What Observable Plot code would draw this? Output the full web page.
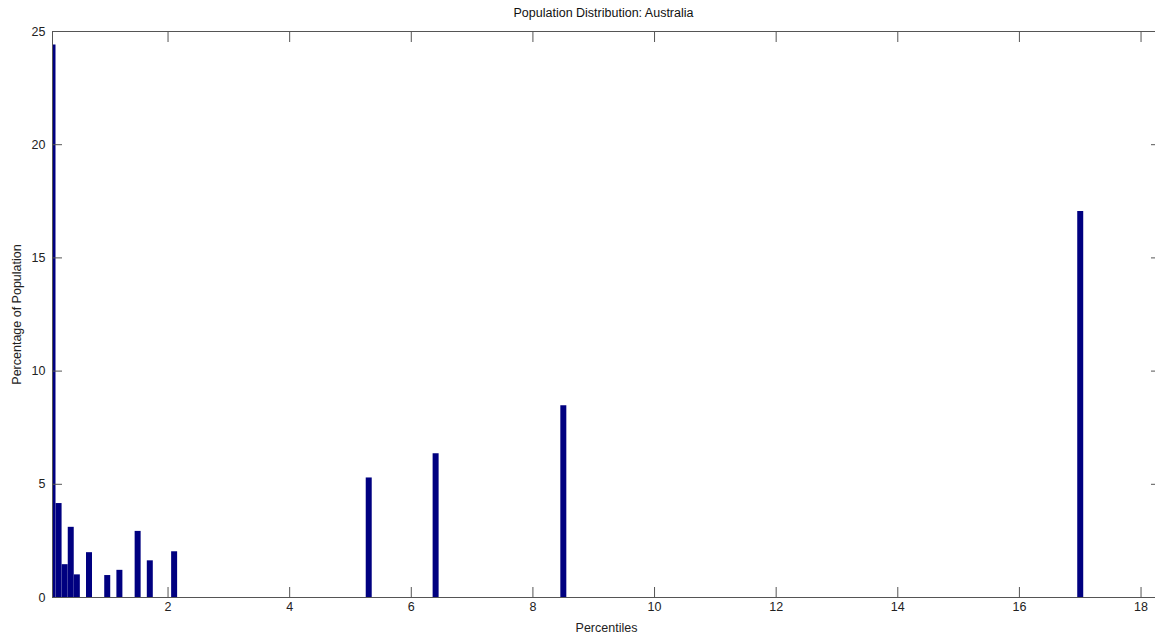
<!DOCTYPE html>
<html>
<head>
<meta charset="utf-8">
<script src="https://cdn.jsdelivr.net/npm/d3@7"></script>
<script src="https://cdn.jsdelivr.net/npm/@observablehq/plot@0.6"></script>
<style>
  html, body { margin: 0; padding: 0; background: #fff; overflow: hidden; }
  #title { width: 1155px; height: 24px; box-sizing: border-box; padding-left: 52px; text-align: center;
           font: 12.5px "Liberation Sans", Arial, sans-serif; color: #111; line-height: 26px; }
  #chart svg { display: block; overflow: hidden; }
</style>
</head>
<body>
<div id="title">Population Distribution: Australia</div>
<div id="chart"></div>
<script>
const percentiles = [0.1, 0.2, 0.3, 0.4, 0.5, 0.7, 1.0, 1.2, 1.5, 1.7, 2.1, 5.3, 6.4, 8.5, 17.0];
const populationPct = [24.4, 4.15, 1.45, 3.1, 1.0, 1.98, 0.97, 1.2, 2.92, 1.62, 2.02, 5.28, 6.35, 8.47, 17.05];
const xTicks = [2, 4, 6, 8, 10, 12, 14, 16, 18];
const yTicks = [0, 5, 10, 15, 20, 25];

const data = percentiles.map((x, i) => ({x, y: populationPct[i]}));
const font = '"Liberation Sans", Arial, sans-serif';

const chart = Plot.plot({
  width: 1155,
  height: 611,
  marginTop: 7,
  marginBottom: 38,
  marginLeft: 52,
  marginRight: -5,
  style: {fontFamily: font, fontSize: "12.5px", color: "#222", background: "#fff"},
  x: {domain: [0.1, 18.32]},
  y: {domain: [0, 25]},
  marks: [
    Plot.ruleX(data, {x: "x", y1: 0, y2: "y", stroke: "#000080", strokeWidth: 6, clip: true}),
    Plot.frame({stroke: "#555"}),
    Plot.axisX({anchor: "bottom", ticks: xTicks, tickSize: -10, tickPadding: 15, stroke: "#555", label: "Percentiles", labelAnchor: "center", labelArrow: "none", labelOffset: 34}),
    Plot.axisX({anchor: "top", ticks: xTicks, tickSize: -10, tickFormat: () => "", stroke: "#555", label: null}),
    Plot.axisY({anchor: "left", ticks: yTicks, tickSize: -10, tickPadding: 17, stroke: "#555", label: "Percentage of Population", labelAnchor: "center", labelArrow: "none", labelOffset: 40}),
    Plot.axisY({anchor: "right", ticks: yTicks, tickSize: -10, tickFormat: () => "", stroke: "#555", label: null})
  ]
});
document.getElementById("chart").appendChild(chart);
</script>
</body>
</html>
